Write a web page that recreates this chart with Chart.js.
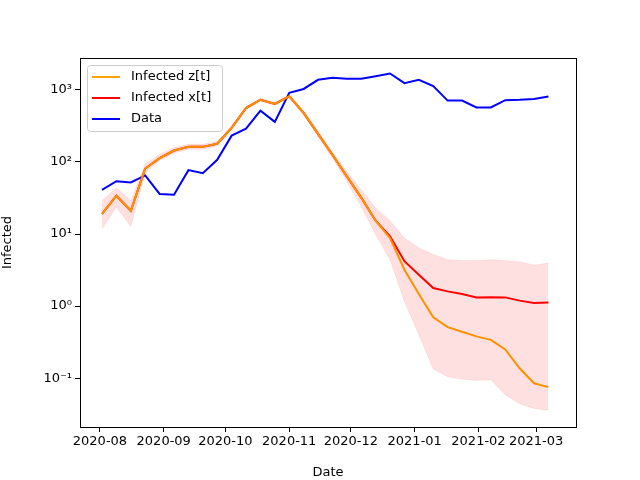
<!DOCTYPE html>
<html>
<head>
<script src="https://cdn.jsdelivr.net/npm/chart.js@4"></script>
<style>body{margin:0;background:#fff}#wrap{width:640px;height:480px}</style>
</head>
<body>
<div id="wrap"><canvas id="c" width="640" height="480"></canvas></div>
<script>
// days since 2020-08-01, one point per week
const days = [1, 8, 15, 22, 29, 36, 43, 50, 57, 64, 71, 78, 85, 92, 99, 106, 113, 120, 127, 134, 141, 148, 155, 162, 169, 176, 183, 190, 197, 204, 211, 218];
const dataCases = [41, 54, 52, 65, 36, 35, 77, 70, 107, 232, 290, 515, 360, 910, 1030, 1380, 1470, 1430, 1430, 1550, 1690, 1240, 1380, 1130, 710, 710, 570, 570, 720, 730, 750, 810];
const infectedX = [19, 34, 21, 81, 113, 144, 162, 162, 179, 297, 560, 730, 640, 815, 480, 245, 126, 63, 32, 15.3, 9.3, 4.2, 2.72, 1.78, 1.6, 1.47, 1.32, 1.33, 1.32, 1.19, 1.10, 1.12];
const infectedZ = [19, 34, 21, 81, 113, 144, 162, 162, 179, 297, 560, 730, 640, 815, 480, 245, 126, 63, 32, 15.3, 8.8, 3.2, 1.47, 0.70, 0.51, 0.44, 0.38, 0.34, 0.25, 0.137, 0.085, 0.075];
const bandUpper = [29, 44, 29, 94, 128, 157, 176, 176, 192, 316, 590, 760, 670, 840, 510, 267, 137, 74, 41, 23, 15.3, 8.8, 6.4, 5.2, 4.4, 4.3, 4.3, 4.4, 4.3, 4.1, 3.7, 3.95];
const bandLower = [11.8, 23.5, 12.7, 70, 105, 133, 150, 150, 168, 280, 530, 700, 610, 790, 450, 228, 113, 54, 24, 9.8, 4.4, 1.16, 0.40, 0.134, 0.105, 0.097, 0.093, 0.095, 0.059, 0.044, 0.038, 0.036];
const monthTicks = [0, 31, 61, 92, 122, 153, 184, 212];
const monthLabels = ['2020-08', '2020-09', '2020-10', '2020-11', '2020-12', '2021-01', '2021-02', '2021-03'];
const yTicks = [0.1, 1, 10, 100, 1000];
const yLabels = ['10\u207B\u00B9', '10\u2070', '10\u00B9', '10\u00B2', '10\u00B3'];

const pts = arr => arr.map((v, i) => ({ x: days[i], y: v }));
const font = { family: 'DejaVu Sans', size: 13 };

const frame = {
  id: 'frame',
  afterDraw(chart) {
    const { ctx, chartArea: a } = chart;
    ctx.save();
    ctx.strokeStyle = '#000';
    ctx.lineWidth = 1;
    ctx.strokeRect(a.left + 0.5, a.top + 0.5, a.right - a.left, a.bottom - a.top);
    // legend box in upper left
    const items = [['Infected z[t]', 'orange'], ['Infected x[t]', 'red'], ['Data', 'blue']];
    const x0 = a.left + 7, y0 = a.top + 7;
    ctx.fillStyle = 'rgba(255,255,255,0.8)';
    ctx.strokeStyle = '#ccc';
    ctx.beginPath();
    ctx.roundRect(x0 + 0.5, y0 + 0.5, 135, 66, 3);
    ctx.fill(); ctx.stroke();
    ctx.font = '13px "DejaVu Sans"';
    ctx.textBaseline = 'middle';
    items.forEach(([t, c], i) => {
      const yy = y0 + 12 + i * 21;
      ctx.strokeStyle = c; ctx.lineWidth = 2;
      ctx.beginPath(); ctx.moveTo(x0 + 5, yy); ctx.lineTo(x0 + 33, yy); ctx.stroke();
      ctx.fillStyle = '#000';
      ctx.fillText(t, x0 + 44, yy);
    });
    ctx.restore();
  }
};

new Chart(document.getElementById('c'), {
  type: 'line',
  data: {
    datasets: [
      { label: 'upper', data: pts(bandUpper), borderColor: 'rgba(255,0,0,0.08)', borderWidth: 1, backgroundColor: 'rgba(255,0,0,0.12)', fill: '+1', pointRadius: 0 },
      { label: 'lower', data: pts(bandLower), borderColor: 'rgba(255,0,0,0.08)', borderWidth: 1, fill: false, pointRadius: 0 },
      { label: 'Infected z[t]', data: pts(infectedZ), borderColor: 'orange', borderWidth: 2, pointRadius: 0, fill: false },
      { label: 'Infected x[t]', data: pts(infectedX), borderColor: 'red', borderWidth: 2, pointRadius: 0, fill: false },
      { label: 'Data', data: pts(dataCases), borderColor: 'blue', borderWidth: 2, pointRadius: 0, fill: false }
    ]
  },
  options: {
    responsive: false,
    animation: false,
    layout: { padding: { top: 58, right: 64, left: 0, bottom: 0 } },
    plugins: { legend: { display: false }, tooltip: { enabled: false } },
    scales: {
      x: {
        type: 'linear', min: -9.7, max: 231.4,
        afterBuildTicks: s => { s.ticks = monthTicks.map(v => ({ value: v })); },
        afterFit: s => { s.height = 53; },
        ticks: { font, color: '#000', maxRotation: 0, autoSkip: false, padding: 2,
          callback: (v, i) => monthLabels[i] },
        grid: { drawOnChartArea: false, tickLength: 5, color: '#000' },
        border: { color: '#000' },
        title: { display: true, text: 'Date', font, color: '#000', padding: 0 }
      },
      y: {
        type: 'logarithmic', min: 0.021, max: 2770,
        afterBuildTicks: s => { s.ticks = yTicks.map(v => ({ value: v })); },
        afterFit: s => { s.width = 80; },
        ticks: { font, color: '#000', padding: 3, callback: (v, i) => yLabels[i] },
        grid: { drawOnChartArea: false, tickLength: 5, color: '#000' },
        border: { color: '#000' },
        title: { display: true, text: 'Infected', font, color: '#000', padding: 0 }
      }
    }
  },
  plugins: [frame]
});
</script>
</body>
</html>
